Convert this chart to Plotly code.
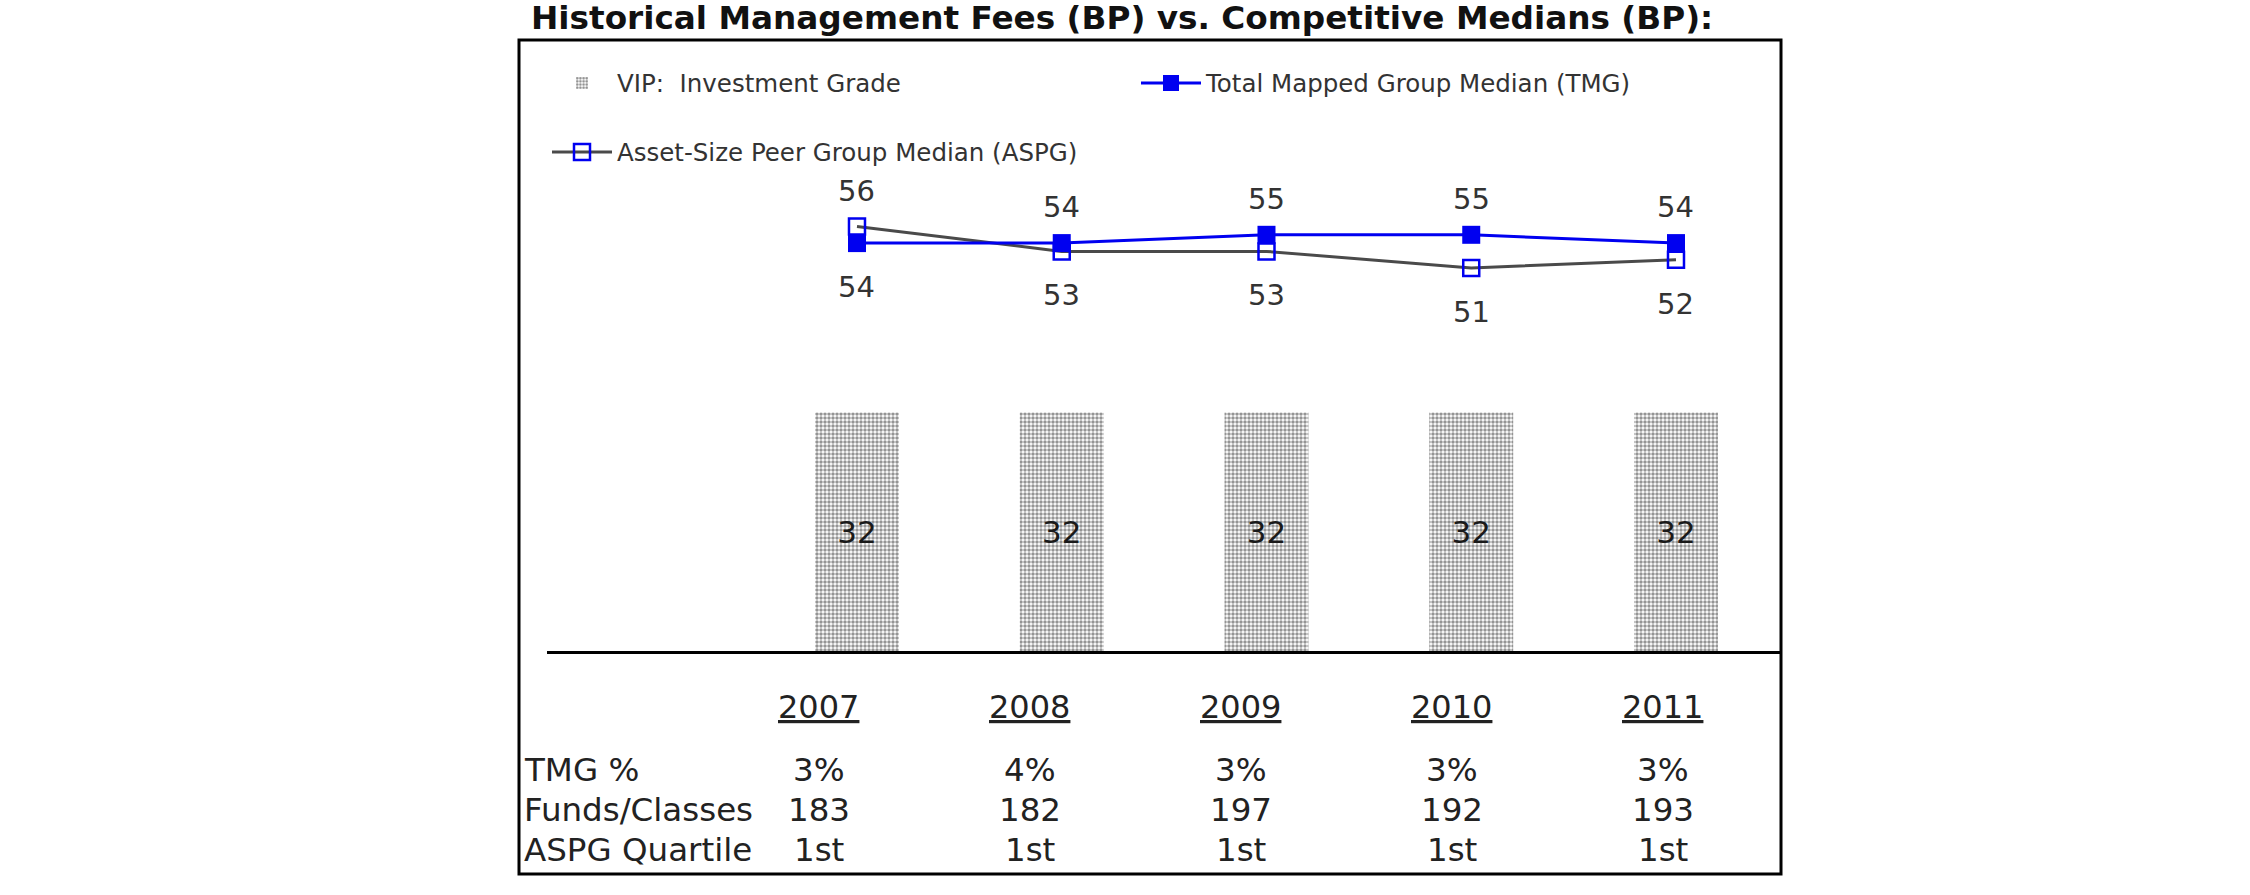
import plotly.graph_objects as go

# ---------------- data ----------------
years = ["2007", "2008", "2009", "2010", "2011"]
vip_fee = [32, 32, 32, 32, 32]
tmg_median = [54, 54, 55, 55, 54]
aspg_median = [56, 53, 53, 51, 52]
tmg_pct = ["3%", "4%", "3%", "3%", "3%"]
funds_classes = ["183", "182", "197", "192", "193"]
aspg_quartile = ["1st", "1st", "1st", "1st", "1st"]
row_labels = ["TMG %", "Funds/Classes", "ASPG Quartile"]
series_names = ["VIP:\u00a0 Investment Grade", "Total Mapped Group Median (TMG)",
                "Asset-Size Peer Group Median (ASPG)"]
title_text = "Historical Management Fees (BP) vs. Competitive Medians (BP):"

# ---------------- layout geometry (pixels) ----------------
W, H = 2250, 895
PL, PR, PT, PB = 547, 1780, 40, 651
pw, ph = PR - PL, PB - PT


def px_x(p):
    return (p - PL) / pw


def px_y(p):
    return (PB - p) / ph


FONT = "DejaVu Sans"
BLUE = "#0000f0"

fig = go.Figure()

fig.add_trace(go.Bar(
    x=years, y=vip_fee, name=series_names[0], legend="legend",
    width=0.41,
    marker=dict(color="white", line=dict(width=0),
                pattern=dict(shape=".", size=4, solidity=0.6,
                             fgcolor="#2a2a2a", bgcolor="white")),
    text=vip_fee, textposition="inside", insidetextanchor="middle",
    textfont=dict(family=FONT, size=31, color="#1a1a1a"),
    textangle=0, yaxis="y",
))

fig.add_trace(go.Scatter(
    x=years, y=aspg_median, name=series_names[2], legend="legend2",
    mode="lines+markers", yaxis="y2",
    line=dict(color="#4a4a4a", width=3),
    marker=dict(symbol="square-open", size=16, color=BLUE, line=dict(width=2.5, color=BLUE)),
))

fig.add_trace(go.Scatter(
    x=years, y=tmg_median, name=series_names[1], legend="legend",
    mode="lines+markers", yaxis="y2",
    line=dict(color=BLUE, width=3),
    marker=dict(symbol="square", size=18, color=BLUE),
))

annotations = []
# point value labels: the higher series is labelled above, the lower below
for i, yr in enumerate(years):
    tmg_above = tmg_median[i] >= aspg_median[i]
    for val, above in ((tmg_median[i], tmg_above), (aspg_median[i], not tmg_above)):
        annotations.append(dict(
            x=i, y=val, xref="x", yref="y2", text=str(val), showarrow=False,
            yshift=36 if above else -44, yanchor="middle", xanchor="center",
            font=dict(family=FONT, size=29, color="#333"),
        ))

# table below the chart
header_y, row_ys = px_y(707), [px_y(770), px_y(810), px_y(850)]
for i, yr in enumerate(years):
    annotations.append(dict(
        x=i, y=header_y, xref="x2", yref="paper", text="<u>" + yr + "</u>",
        showarrow=False, xanchor="center", yanchor="middle",
        font=dict(family=FONT, size=32, color="#222"),
    ))
    for row_vals, ry in zip((tmg_pct, funds_classes, aspg_quartile), row_ys):
        annotations.append(dict(
            x=i, y=ry, xref="x2", yref="paper", text=row_vals[i],
            showarrow=False, xanchor="center", yanchor="middle",
            font=dict(family=FONT, size=32.5, color="#222"),
        ))
for lab, ry in zip(row_labels, row_ys):
    annotations.append(dict(
        x=px_x(522), y=ry, xref="paper", yref="paper", text=lab,
        showarrow=False, xanchor="left", yanchor="middle",
        font=dict(family=FONT, size=32.5, color="#222"),
    ))

legend_common = dict(
    orientation="h", xanchor="left", yanchor="middle",
    x=px_x(547), itemwidth=60, entrywidth=514, entrywidthmode="pixels",
    font=dict(family=FONT, size=24.5, color="#333"),
    bgcolor="rgba(0,0,0,0)", borderwidth=0, traceorder="normal",
    itemclick=False, itemdoubleclick=False,
)

fig.update_layout(
    width=W, height=H,
    margin=dict(l=PL, r=W - PR, t=PT, b=H - PB, pad=0),
    paper_bgcolor="white", plot_bgcolor="white",
    showlegend=True,
    title=dict(text=title_text, xref="container", yref="container",
               x=531 / W, y=1 - 18 / H, xanchor="left", yanchor="middle",
               font=dict(family=FONT, size=32.7, color="#111", weight="bold")),
    xaxis=dict(type="category", range=[-1.514, 4.508], showline=True, linewidth=3,
               linecolor="black", showticklabels=False, ticks="", showgrid=False,
               zeroline=False, fixedrange=True),
    xaxis2=dict(overlaying="x", anchor="y", range=[-1.289, 4.555], visible=False,
                fixedrange=True),
    yaxis=dict(range=[0, 81.98], visible=False, showgrid=False, zeroline=False,
               fixedrange=True),
    yaxis2=dict(overlaying="y", range=[4.855, 78.47], visible=False, showgrid=False,
                zeroline=False, fixedrange=True),
    legend=dict(legend_common, y=px_y(83)),
    legend2=dict(legend_common, y=px_y(152)),
    annotations=annotations,
    shapes=[dict(type="rect", xref="paper", yref="paper",
                 x0=px_x(519), x1=px_x(1781), y0=px_y(874), y1=px_y(40),
                 line=dict(color="black", width=3), fillcolor="rgba(0,0,0,0)",
                 layer="above")],
    bargap=0.59,
)

# remove the browser's default 8px page margin so the figure sits at the page origin
fig.write_html("out.html", config={"displayModeBar": False},
               post_script="document.body.style.margin='0px';")
